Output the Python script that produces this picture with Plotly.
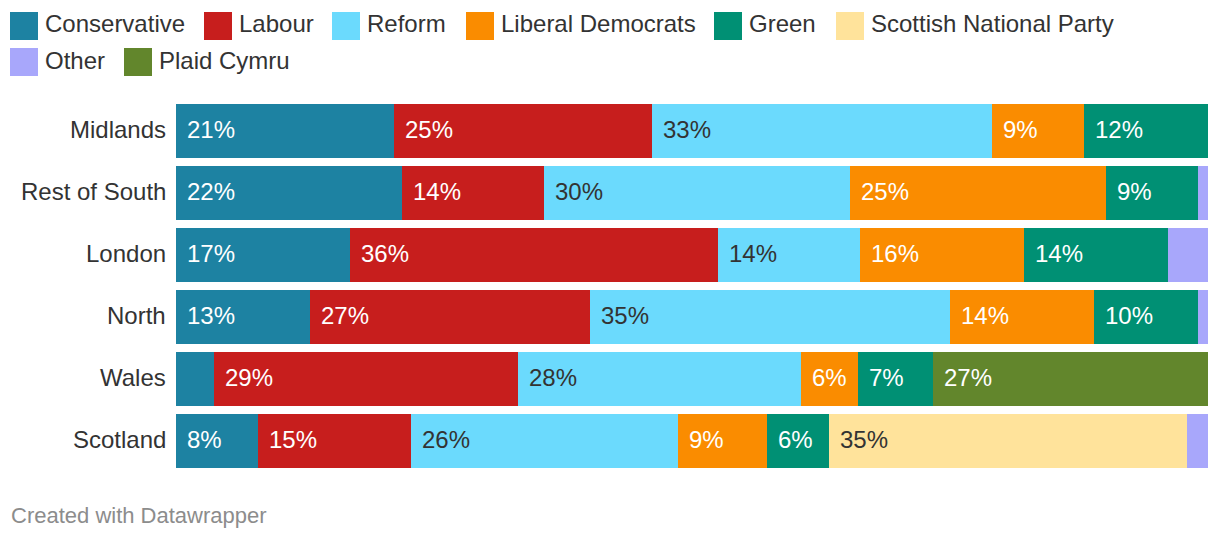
import plotly.graph_objects as go

regions = ["Midlands", "Rest of South", "London", "North", "Wales", "Scotland"]
parties = ["Conservative", "Labour", "Reform", "Liberal Democrats", "Green",
           "Scottish National Party", "Plaid Cymru", "Other"]
legend_order = ["Conservative", "Labour", "Reform", "Liberal Democrats", "Green",
                "Scottish National Party", "Other", "Plaid Cymru"]

conservative = [21.1, 21.9, 16.9, 13.0, 3.7, 7.9]
labour = [25.0, 13.8, 35.6, 27.1, 29.4, 14.9]
reform = [33.0, 29.6, 13.8, 34.9, 27.5, 25.8]
lib_dem = [8.9, 24.8, 15.9, 14.0, 5.5, 8.7]
green = [12.0, 8.9, 13.9, 10.0, 7.3, 6.0]
snp = [0, 0, 0, 0, 0, 34.7]
plaid = [0, 0, 0, 0, 26.6, 0]
other = [0, 1.0, 3.9, 1.0, 0, 2.0]

values = {
    "Conservative": conservative, "Labour": labour, "Reform": reform,
    "Liberal Democrats": lib_dem, "Green": green,
    "Scottish National Party": snp, "Plaid Cymru": plaid, "Other": other,
}
colors = {
    "Conservative": "#1d82a2", "Labour": "#c71e1d", "Reform": "#6bdafd",
    "Liberal Democrats": "#fa8c00", "Green": "#009074",
    "Scottish National Party": "#ffe39b", "Plaid Cymru": "#62862c", "Other": "#a8a7fb",
}
dark_text = {"Reform", "Scottish National Party"}

FONT = "Liberation Sans, Arial, Helvetica, sans-serif"
FS = 24
YS = 2  # text sits slightly above centre

# page has an 8px body margin; positions below are figure pixels
OFF = 8
L, T, W, H = 176 - OFF, 100 - OFF, 1032, 372
FIG_W, FIG_H = 1220, 540

fig = go.Figure()
for p in parties:
    fig.add_trace(go.Bar(
        y=regions, x=values[p], orientation="h", name=p,
        marker=dict(color=colors[p], line=dict(width=0)),
        showlegend=False, hoverinfo="skip",
    ))

annotations = []
for i, r in enumerate(regions):
    annotations.append(dict(
        x=0, y=r, xref="paper", yref="y", text=r, showarrow=False,
        xanchor="right", yanchor="middle", xshift=-8, yshift=YS,
        font=dict(family=FONT, size=FS, color="#333333"),
    ))
    start = 0.0
    for p in parties:
        v = values[p][i]
        if v >= 5:
            annotations.append(dict(
                x=start, y=r, xref="x", yref="y", text=f"{v:.0f}%",
                showarrow=False, xanchor="left", yanchor="middle", xshift=9, yshift=YS,
                font=dict(family=FONT, size=FS,
                          color="#333333" if p in dark_text else "#ffffff"),
            ))
        start += v

def px_x(px):
    return (px - OFF - L) / W
def px_y(py):
    return (T + H - (py - OFF)) / H

legend_pos = [(10, 12), (204, 12), (332, 12), (466, 12), (714, 12), (836, 12),
              (10, 48), (124, 48)]
shapes = []
for name, (sx, sy) in zip(legend_order, legend_pos):
    shapes.append(dict(type="rect", xref="paper", yref="paper",
                       x0=px_x(sx), x1=px_x(sx + 28), y0=px_y(sy + 28), y1=px_y(sy),
                       fillcolor=colors[name], line=dict(width=0)))
    annotations.append(dict(x=px_x(sx + 33), y=px_y(sy + 12), xref="paper", yref="paper",
                            text=name, showarrow=False, xanchor="left", yanchor="middle",
                            font=dict(family=FONT, size=FS, color="#333333")))

annotations.append(dict(x=px_x(9), y=px_y(516), xref="paper", yref="paper",
                        text="Created with Datawrapper", showarrow=False,
                        xanchor="left", yanchor="middle",
                        font=dict(family=FONT, size=22, color="#8c8c8c")))

fig.update_layout(
    width=FIG_W, height=FIG_H,
    margin=dict(l=L, r=FIG_W - L - W, t=T, b=FIG_H - T - H, pad=0),
    barmode="stack", bargap=0.129,
    plot_bgcolor="white", paper_bgcolor="white",
    xaxis=dict(range=[0, 100], showticklabels=False, showgrid=False,
               zeroline=False, showline=False, fixedrange=True),
    yaxis=dict(categoryorder="array", categoryarray=regions, autorange="reversed",
               showgrid=False, zeroline=False, showline=False,
               showticklabels=False, fixedrange=True),
    shapes=shapes, annotations=annotations,
)

fig.write_html("out.html")
